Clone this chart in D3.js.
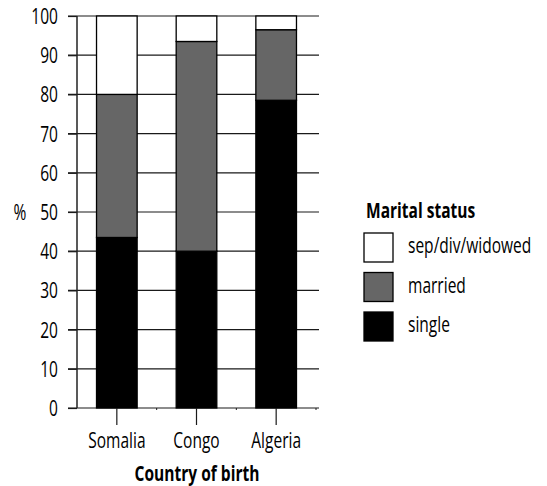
<!DOCTYPE html>
<html>
<head>
<meta charset="utf-8">
<script src="https://cdn.jsdelivr.net/npm/d3@7"></script>
<style>
  body { margin: 0; background: #fff; }
  svg text { font-family: "Open Sans", "Noto Sans", sans-serif; fill: #000; font-size: 21px; }
</style>
</head>
<body>
<svg id="chart" width="547" height="486"></svg>
<script>
let countries = ['Somalia', 'Congo', 'Algeria']
let single = [43.5, 40, 78.5]
let married = [36.5, 53.5, 18]
let widowed = [20, 6.5, 3.5]

let statusKeys = ['single', 'married', 'widowed']
let statusLabels = ['single', 'married', 'sep/div/widowed']
let statusColors = ['#000000', '#666666', '#ffffff']
let yTicks = [0, 10, 20, 30, 40, 50, 60, 70, 80, 90, 100]

let rows = countries.map((c, i) => {
    return { country: c, single: single[i], married: married[i], widowed: widowed[i] }
})

// squeeze text horizontally to imitate a condensed face
let squeeze = 0.74
let condense = (sel) => {
    sel.each(function () {
        let t = d3.select(this)
        let x = +t.attr('x') || 0
        t.attr('x', x / squeeze).attr('transform', 'scale(' + squeeze + ',1)')
    })
}

let svg = d3.select('#chart')

let x = d3.scaleBand()
    .domain(countries)
    .range([77, 316])
    .paddingInner(0.49)
    .paddingOuter(0.245)

let y = d3.scaleLinear()
    .domain([0, 100])
    .range([408, 16])

// grid lines
svg.append('g')
    .selectAll('line')
    .data(yTicks)
    .enter()
    .append('line')
    .attr('x1', 68)
    .attr('x2', 319)
    .attr('y1', (d) => y(d))
    .attr('y2', (d) => y(d))
    .attr('stroke', '#1a1a1a')
    .attr('stroke-width', 1.2)

// y axis
let yAxis = d3.axisLeft(y).tickValues(yTicks).tickSize(9).tickPadding(10)
let yg = svg.append('g')
    .attr('transform', 'translate(77,0)')
    .call(yAxis)
yg.select('.domain').remove()
yg.append('line')
    .attr('x1', 0).attr('x2', 0)
    .attr('y1', y(100)).attr('y2', y(0))
    .attr('stroke', '#222').attr('stroke-width', 1.5)
yg.selectAll('.tick line').attr('stroke', '#1a1a1a').attr('stroke-width', 1.2)
yg.selectAll('.tick text')
    .attr('font-family', null).attr('font-size', null)
    .attr('dy', '0.36em')
    .call(condense)

// stacked bars
let stack = d3.stack().keys(statusKeys)
let series = stack(rows)

svg.append('g')
    .selectAll('g')
    .data(series)
    .enter()
    .append('g')
    .attr('fill', (d, i) => statusColors[i])
    .selectAll('rect')
    .data((d) => d)
    .enter()
    .append('rect')
    .attr('x', (d) => x(d.data.country))
    .attr('width', x.bandwidth())
    .attr('y', (d) => y(d[1]))
    .attr('height', (d) => y(d[0]) - y(d[1]))
    .attr('stroke', '#000')
    .attr('stroke-width', 1.3)

// x axis
let xAxis = d3.axisBottom(x).tickSize(17).tickPadding(8)
let xg = svg.append('g')
    .attr('transform', 'translate(0,408)')
    .call(xAxis)
xg.select('.domain').remove()
xg.selectAll('.tick line').attr('stroke', '#1a1a1a').attr('stroke-width', 1.2)
xg.selectAll('.tick text')
    .attr('font-family', null).attr('font-size', null)
    .call(condense)

// small marks between bands
let step = x.step()
xg.selectAll('.sep')
    .data(countries)
    .enter()
    .append('line')
    .attr('x1', (d) => x(d) + x.bandwidth() + (step - x.bandwidth()) / 2)
    .attr('x2', (d) => x(d) + x.bandwidth() + (step - x.bandwidth()) / 2)
    .attr('y1', 0)
    .attr('y2', 2)
    .attr('stroke', '#1a1a1a')

// axis titles
svg.append('text')
    .attr('x', 197)
    .attr('y', 481)
    .attr('text-anchor', 'middle')
    .style('font-weight', 'bold')
    .text('Country of birth')
    .call(condense)

svg.append('text')
    .attr('x', 20)
    .attr('y', 220)
    .attr('text-anchor', 'middle')
    .text('%')
    .call(condense)

// legend
let legend = svg.append('g')
legend.append('text')
    .attr('x', 366)
    .attr('y', 218)
    .style('font-weight', 'bold')
    .text('Marital status')
    .call(condense)

let legendOrder = [2, 1, 0]
let item = legend.selectAll('.item')
    .data(legendOrder)
    .enter()
    .append('g')
    .attr('transform', (d, i) => 'translate(364,' + (233 + i * 39.5) + ')')

item.append('rect')
    .attr('width', 29)
    .attr('height', 29)
    .attr('fill', (d) => statusColors[d])
    .attr('stroke', '#000')
    .attr('stroke-width', 1.3)

item.append('text')
    .attr('x', 44)
    .attr('y', 20)
    .text((d) => statusLabels[d])
    .call(condense)
</script>
</body>
</html>
